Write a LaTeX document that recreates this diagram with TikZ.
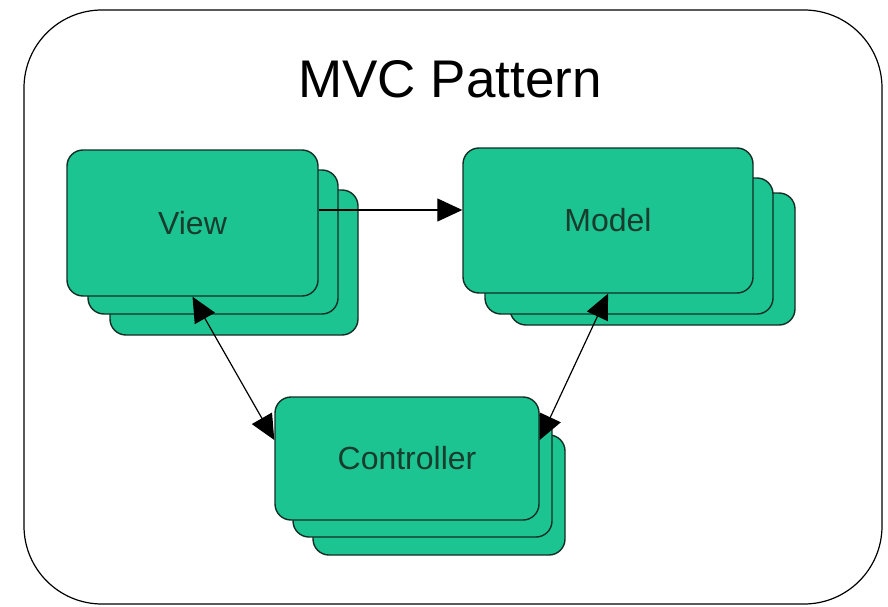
\documentclass[tikz,border=0pt]{standalone}
\usepackage{fontspec}
\setmainfont{Liberation Sans}
\usetikzlibrary{arrows.meta}
\definecolor{boxgreen}{RGB}{28,196,146}
\definecolor{boxline}{RGB}{20,45,35}
\definecolor{boxtext}{RGB}{25,60,45}
\tikzset{
  mvcbox/.style={draw=boxline, fill=boxgreen, line width=1.4pt, rounded corners=16pt,
    inner sep=0pt, font=\fontsize{32}{38}\selectfont, text=boxtext},
  frame/.style={draw=black, line width=1.2pt, rounded corners=78pt},
  conn/.style={draw=black, line width=1.2pt},
  tip/.tip={Triangle[length=25pt,width=23pt]}
}
\begin{document}
\begin{tikzpicture}[x=1pt,y=-1pt]
\useasboundingbox (0,0) rectangle (888,607);
\draw[frame] (24,10) rectangle (882,604);
\node[font=\fontsize{53}{62}\selectfont, anchor=base] (title) at (450,98) {MVC Pattern};
% View stack
\node[mvcbox, minimum width=248pt, minimum height=145pt] (view3) at (234,262.5) {};
\node[mvcbox, minimum width=250pt, minimum height=144pt] (view2) at (213,242) {};
\node[mvcbox, minimum width=251pt, minimum height=146pt] (view) at (192.5,223) {View};
% Model stack
\node[mvcbox, minimum width=285pt, minimum height=132pt] (model3) at (652.5,259) {};
\node[mvcbox, minimum width=288pt, minimum height=136pt] (model2) at (629,246) {};
\node[mvcbox, minimum width=290pt, minimum height=145pt] (model) at (608,220.5) {Model};
% Controller stack
\node[mvcbox, minimum width=252pt, minimum height=120pt] (controller3) at (439,495) {};
\node[mvcbox, minimum width=259pt, minimum height=122pt] (controller2) at (422.5,476) {};
\node[mvcbox, minimum width=264pt, minimum height=123pt] (controller) at (407,458.5) {Controller};
% connectors
\coordinate (vline) at (0,210);
\coordinate (cline) at (0,440);
\draw[conn, -{tip}] (view.east |- vline) -- (model.west |- vline);
\draw[conn, {tip}-{tip}] (view.south) -- (controller.west |- cline);
\draw[conn, {tip}-{tip}] (model.south) -- (controller.east |- cline);
\end{tikzpicture}
\end{document}
